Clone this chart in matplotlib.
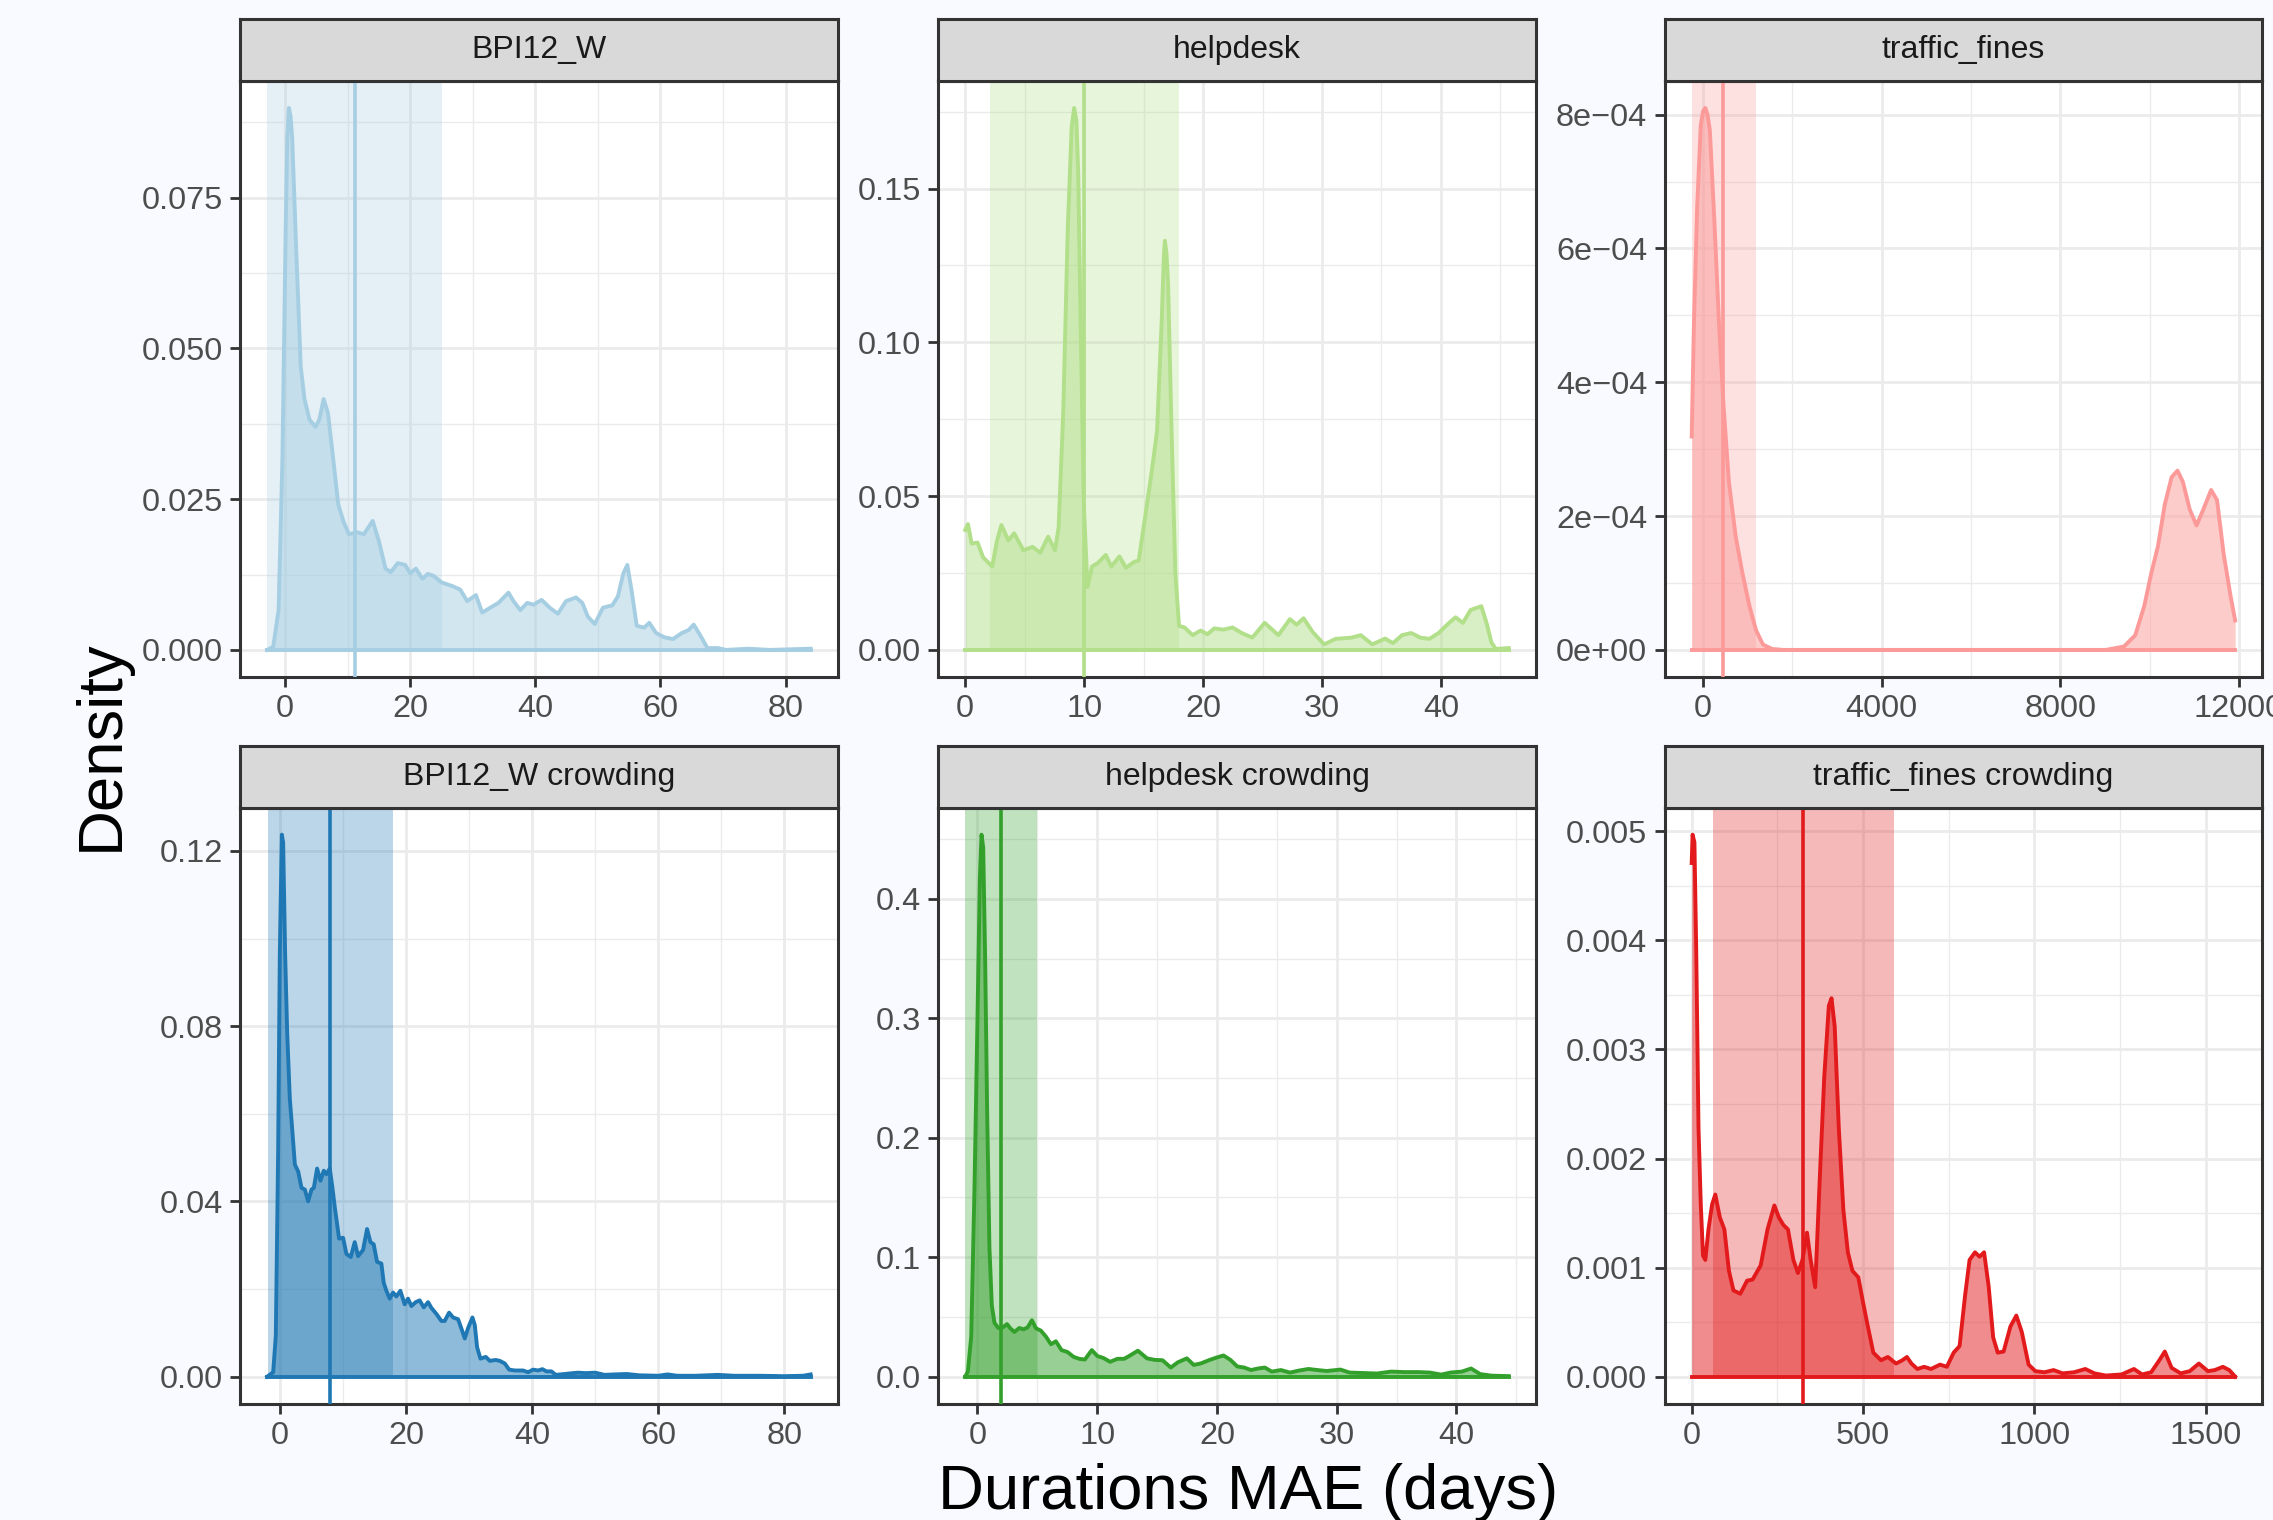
"""Density of duration MAE per dataset, six facets in the ggplot look"""

import numpy as np
import matplotlib
matplotlib.use("Agg")
import matplotlib.pyplot as plt

plt.rcParams["font.family"] = ["Liberation Sans", "DejaVu Sans"]

"""Data read off the reference: (x, density) points of each curve"""

bpi_pts = [(-2.86, 0), (-1.9, 0.0005), (-1.04, 0.0066), (-0.43, 0.0317), (0.09, 0.0697),
           (0.35, 0.085), (0.61, 0.0899), (0.87, 0.0885), (1.13, 0.085), (1.82, 0.0652),
           (2.5, 0.047), (3.1, 0.0416), (3.9, 0.0382), (4.86, 0.037), (5.47, 0.0382),
           (6.16, 0.0416), (6.85, 0.0393), (7.6, 0.0325), (8.5, 0.0241), (9.4, 0.0211),
           (10.2, 0.0192), (11.5, 0.0195), (12.6, 0.0192), (14.0, 0.0214), (15.0, 0.018),
           (16.05, 0.0135), (16.9, 0.0129), (18.0, 0.0144), (19.2, 0.0141), (20.0, 0.0127),
           (20.9, 0.0135), (21.95, 0.0118), (22.8, 0.0126), (23.7, 0.0123), (25.0, 0.0112),
           (26.7, 0.0106), (28.0, 0.0100), (29.1, 0.0081), (30.5, 0.0091), (31.5, 0.0062),
           (32.8, 0.0070), (34.1, 0.0078), (35.7, 0.0095), (36.5, 0.0081), (37.6, 0.0066),
           (38.7, 0.0078), (39.7, 0.0075), (41.0, 0.0083), (42.3, 0.0070), (43.6, 0.0060),
           (44.9, 0.0081), (46.5, 0.0087), (47.5, 0.0078), (48.4, 0.0055), (49.5, 0.0043),
           (50.8, 0.0070), (52.3, 0.0074), (53.2, 0.0089), (54.06, 0.0127), (54.7, 0.0141),
           (55.4, 0.0097), (56.2, 0.0040), (57.4, 0.0037), (58.2, 0.0045), (59.3, 0.0028),
           (60.6, 0.0021), (62.0, 0.0018), (63.4, 0.0028), (64.5, 0.0033), (65.3, 0.0042),
           (66.2, 0.0027), (67.5, 0.0003), (69.2, 0.0003), (70.5, 0.0), (74.0, 0.0002),
           (77.5, 0.0), (84.0, 0.0002)]

helpdesk_pts = [(0, 0.039), (0.23, 0.0409), (0.54, 0.0346), (1.04, 0.0349), (1.5, 0.0301),
                (2.27, 0.0271), (2.66, 0.0353), (3.04, 0.0406), (3.62, 0.0356), (4.12, 0.0379),
                (4.89, 0.0324), (5.66, 0.0335), (6.31, 0.0316), (6.97, 0.0368), (7.55, 0.0324),
                (7.85, 0.0398), (8.24, 0.0771), (8.62, 0.1367), (8.95, 0.170), (9.16, 0.1762),
                (9.35, 0.172), (9.5, 0.155), (9.7, 0.1069), (9.97, 0.0473), (10.28, 0.0204),
                (10.66, 0.0271), (11.13, 0.0282), (11.82, 0.0309), (12.28, 0.0271), (12.97, 0.0304),
                (13.51, 0.0267), (14.2, 0.0286), (14.59, 0.0291), (15.17, 0.0443), (15.67, 0.0577),
                (16.13, 0.0711), (16.52, 0.1069), (16.7, 0.128), (16.79, 0.133), (16.92, 0.129),
                (17.06, 0.1188), (17.36, 0.0696), (17.67, 0.0249), (17.98, 0.0078), (18.44, 0.0073),
                (19.13, 0.0048), (19.79, 0.0063), (20.37, 0.0051), (20.94, 0.0070), (21.71, 0.0066),
                (22.48, 0.0073), (23.25, 0.0055), (24.14, 0.0040), (25.18, 0.0088), (26.33, 0.0048),
                (27.3, 0.0100), (27.87, 0.0082), (28.45, 0.0103), (29.22, 0.0058), (30.18, 0.0018),
                (31.15, 0.0036), (32.5, 0.0040), (33.26, 0.0048), (34.23, 0.0018), (35.31, 0.0037),
                (35.97, 0.0022), (36.73, 0.0048), (37.5, 0.0055), (38.27, 0.0040), (39.04, 0.0036),
                (39.81, 0.0055), (40.6, 0.0085), (41.23, 0.0106), (41.85, 0.0088), (42.5, 0.0130),
                (43.4, 0.0142), (43.86, 0.0085), (44.24, 0.0025), (44.62, 0.0003), (45.7, 0.0006)]

traffic_pts = [(-254, 3.19e-4), (-203, 4.9e-4), (-132, 6.61e-4), (-51, 7.84e-4), (0, 8.05e-4),
               (51, 8.1e-4), (100, 8.0e-4), (152, 7.77e-4), (254, 6.41e-4), (356, 4.9e-4),
               (457, 3.67e-4), (579, 2.51e-4), (732, 1.69e-4), (884, 1.14e-4), (1037, 6.6e-5),
               (1189, 2.9e-5), (1342, 8e-6), (1545, 1.4e-6), (1800, 0), (9016, 0),
               (9423, 5e-6), (9677, 2.2e-5), (9880, 6.6e-5), (10033, 1.14e-4), (10185, 1.55e-4),
               (10337, 2.17e-4), (10490, 2.58e-4), (10622, 2.68e-4), (10744, 2.51e-4),
               (10896, 2.1e-4), (11049, 1.86e-4), (11201, 2.1e-4), (11375, 2.39e-4),
               (11507, 2.24e-4), (11659, 1.42e-4), (11812, 8e-5), (11913, 4.4e-5)]

bpi_crowd_pts = [(-2.04, 0), (-1.09, 0.001), (-0.67, 0.0094), (-0.3, 0.0519), (-0.04, 0.0962),
                 (0.28, 0.1237), (0.49, 0.1219), (0.81, 0.0962), (1.13, 0.0785), (1.55, 0.0634),
                 (1.98, 0.0555), (2.35, 0.0484), (2.88, 0.0468), (3.4, 0.0431), (3.93, 0.0427),
                 (4.46, 0.0400), (4.99, 0.0427), (5.36, 0.0431), (5.88, 0.0475), (6.41, 0.0447),
                 (6.94, 0.0470), (7.37, 0.0462), (7.89, 0.0475), (8.31, 0.0431), (8.69, 0.0386),
                 (9.37, 0.0315), (10.0, 0.0317), (10.53, 0.0280), (11.22, 0.0273), (11.85, 0.0307),
                 (12.38, 0.0275), (13.17, 0.0289), (13.81, 0.0337), (14.34, 0.0307), (14.86, 0.0302),
                 (15.39, 0.0262), (16.08, 0.0258), (16.45, 0.0214), (16.87, 0.0196), (17.4, 0.0178),
                 (17.93, 0.0192), (18.46, 0.0183), (19.09, 0.0196), (19.78, 0.0165), (20.31, 0.0178),
                 (20.84, 0.0161), (21.53, 0.0170), (22.16, 0.0174), (22.8, 0.0158), (23.49, 0.0170),
                 (24.01, 0.0157), (24.81, 0.0143), (25.6, 0.0127), (26.13, 0.0127), (26.82, 0.0146),
                 (27.46, 0.0135), (28.25, 0.0131), (28.94, 0.0103), (29.31, 0.0087), (29.84, 0.0111),
                 (30.53, 0.0135), (30.9, 0.0118), (31.27, 0.0067), (31.8, 0.0041), (32.65, 0.0045),
                 (33.28, 0.0036), (34.23, 0.0038), (34.86, 0.0036), (35.66, 0.0030), (36.35, 0.0016),
                 (37.24, 0.0014), (38.56, 0.0014), (39.36, 0.0010), (40.15, 0.0016), (40.94, 0.0014),
                 (41.63, 0.0017), (42.27, 0.0012), (43.06, 0.0012), (43.75, 0.0004), (45.17, 0.0006),
                 (46.49, 0.0008), (47.3, 0.0009), (48.5, 0.0008), (50.0, 0.0009), (51.5, 0.0004),
                 (53.0, 0.0005), (55.0, 0.0006), (57.0, 0.0003), (60.0, 0.0002), (61.5, 0.0005),
                 (63.0, 0.0002), (66.0, 0.0002), (69.5, 0.0004), (72.0, 0.0002), (76.0, 0.0002),
                 (80.0, 0.0001), (83.0, 0.0002), (84.2, 0.0005)]

helpdesk_crowd_pts = [(-1.02, 0), (-0.8, 0.0043), (-0.52, 0.0335), (-0.25, 0.157), (-0.02, 0.287),
                      (0.2, 0.417), (0.34, 0.4538), (0.48, 0.443), (0.64, 0.352), (0.81, 0.222),
                      (1.0, 0.108), (1.2, 0.0596), (1.42, 0.045), (1.75, 0.0407), (2.11, 0.0412),
                      (2.47, 0.044), (2.75, 0.0404), (3.08, 0.0374), (3.5, 0.0407), (3.86, 0.0396),
                      (4.19, 0.0412), (4.55, 0.0472), (4.89, 0.0404), (5.3, 0.0385), (5.72, 0.0335),
                      (6.14, 0.0271), (6.55, 0.0296), (7.02, 0.0222), (7.52, 0.0206), (8.02, 0.0166),
                      (8.5, 0.0149), (8.97, 0.0143), (9.55, 0.0222), (10.02, 0.0172), (10.52, 0.0156),
                      (11.08, 0.0124), (11.69, 0.0149), (12.25, 0.0149), (12.66, 0.0172), (13.4, 0.0217),
                      (14.16, 0.0153), (14.81, 0.0140), (15.46, 0.0137), (16.15, 0.0076), (16.72, 0.0119),
                      (17.49, 0.0153), (18.06, 0.0098), (18.64, 0.0110), (19.4, 0.0140), (19.98, 0.0160),
                      (20.55, 0.0177), (21.13, 0.0140), (21.7, 0.0085), (22.28, 0.0076), (22.85, 0.0055),
                      (23.43, 0.0068), (24.0, 0.0076), (24.58, 0.0042), (25.34, 0.0055), (26.1, 0.0034),
                      (26.87, 0.0051), (27.64, 0.0064), (28.4, 0.0055), (29.17, 0.0047), (30.32, 0.0059),
                      (31.08, 0.0034), (32.23, 0.0030), (33.38, 0.0026), (34.53, 0.0042), (35.68, 0.0038),
                      (36.83, 0.0038), (37.78, 0.0034), (38.74, 0.0017), (39.5, 0.0034), (40.46, 0.0042),
                      (41.23, 0.0068), (41.99, 0.0021), (42.95, 0.0008), (44.37, 0.0004)]

traffic_crowd_pts = [(0, 0.00471), (2.6, 0.00497), (8, 0.0049), (13.2, 0.00392), (19.9, 0.00228),
                     (26.5, 0.00158), (33.1, 0.00111), (39.8, 0.00107), (49, 0.00135), (59.6, 0.00158),
                     (68.9, 0.00167), (82.2, 0.00146), (95.4, 0.00135), (108.7, 0.00097), (121.9, 0.00079),
                     (141.8, 0.00076), (161.7, 0.00088), (177.6, 0.00089), (201.4, 0.00102),
                     (221.3, 0.00135), (241.2, 0.00157), (254.4, 0.00146), (267.7, 0.00139),
                     (280.9, 0.00135), (296.8, 0.00107), (310, 0.00095), (323.3, 0.00107),
                     (336.5, 0.00132), (347.2, 0.00107), (360.4, 0.00082), (373.7, 0.00181),
                     (386.9, 0.00275), (400.2, 0.0034), (408.1, 0.00347), (417.4, 0.00321),
                     (429.3, 0.00228), (442.6, 0.00153), (455.8, 0.00114), (469.1, 0.00097),
                     (486.3, 0.00091), (499.5, 0.00069), (512.8, 0.00048), (530, 0.00022),
                     (552.5, 0.00015), (572.4, 0.00018), (596.3, 0.00012), (614.8, 0.00015),
                     (628.1, 0.00018), (641.3, 0.00012), (658.5, 0.00007), (678.4, 0.00009),
                     (698.3, 0.00007), (724.8, 0.00011), (744.7, 0.00009), (764.5, 0.00022),
                     (781.8, 0.00028), (797.7, 0.00074), (810.9, 0.00107), (826.8, 0.00114),
                     (840.1, 0.0011), (853.3, 0.00114), (866.6, 0.00083), (879.8, 0.00036),
                     (893.1, 0.00022), (910.3, 0.00023), (930.2, 0.00046), (947.4, 0.00056),
                     (963.3, 0.00041), (983.2, 0.00011), (1003, 0.00005), (1029.5, 0.00004),
                     (1056, 0.00006), (1082.5, 0.00003), (1115.7, 0.00004), (1148.8, 0.00007),
                     (1175.3, 0.00003), (1208.4, 0.00001), (1254.8, 0.00002), (1290.6, 0.00007),
                     (1314.4, 0.00002), (1340.9, 0.00004), (1364.8, 0.00015), (1380.7, 0.00023),
                     (1400.6, 0.00008), (1427.1, 0.00003), (1453.6, 0.00005), (1480.1, 0.00012),
                     (1506.6, 0.00005), (1526.5, 0.00006), (1550.3, 0.00009), (1568.8, 0.00006),
                     (1586, 0.0)]

titles = ["BPI12_W", "helpdesk", "traffic_fines",
          "BPI12_W crowding", "helpdesk crowding", "traffic_fines crowding"]
colors = ["#A6CEE3", "#B2DF8A", "#FB9A99", "#1F78B4", "#33A02C", "#E31A1C"]
bands = [(-2.86, 25.07), (2.05, 17.98), (-253, 1190), (-1.96, 18.0), (-1.07, 4.98), (61, 591)]
vlines = [11.1, 10.0, 458, 8.0, 2.0, 326]

xticks = [[0, 20, 40, 60, 80], [0, 10, 20, 30, 40], [0, 4000, 8000, 12000],
          [0, 20, 40, 60, 80], [0, 10, 20, 30, 40], [0, 500, 1000, 1500]]
xminor = [[10, 30, 50, 70], [5, 15, 25, 35, 45], [2000, 6000, 10000],
          [10, 30, 50, 70], [5, 15, 25, 35, 45], [250, 750, 1250]]
yticks = [[0, 0.025, 0.05, 0.075], [0, 0.05, 0.10, 0.15], [0, 2e-4, 4e-4, 6e-4, 8e-4],
          [0, 0.04, 0.08, 0.12], [0, 0.1, 0.2, 0.3, 0.4], [0, 0.001, 0.002, 0.003, 0.004, 0.005]]
ylabels = [["0.000", "0.025", "0.050", "0.075"],
           ["0.00", "0.05", "0.10", "0.15"],
           ["0e+00", "2e\u221204", "4e\u221204", "6e\u221204", "8e\u221204"],
           ["0.00", "0.04", "0.08", "0.12"],
           ["0.0", "0.1", "0.2", "0.3", "0.4"],
           ["0.000", "0.001", "0.002", "0.003", "0.004", "0.005"]]
yminor = [[0.0125, 0.0375, 0.0625, 0.0875], [0.025, 0.075, 0.125, 0.175],
          [1e-4, 3e-4, 5e-4, 7e-4], [0.02, 0.06, 0.10], [0.05, 0.15, 0.25, 0.35, 0.45],
          [0.0005, 0.0015, 0.0025, 0.0035, 0.0045]]

curves = [bpi_pts, helpdesk_pts, traffic_pts, bpi_crowd_pts, helpdesk_crowd_pts, traffic_crowd_pts]

"""Layout (figure fractions)"""

BG = "#F8FAFF"
col_left = [0.1056, 0.4127, 0.7323]
row_bottom = [0.5546, 0.0765]
PW, PH, SH = 0.2630, 0.3922, 0.0404
DARK = "#333333"


def draw_panel(fig, i):
    """one facet: strip, grid, band, density, mean line"""
    left = col_left[i % 3]
    bottom = row_bottom[i // 3]
    c = colors[i]
    ax = fig.add_axes([left, bottom, PW, PH])
    sax = fig.add_axes([left, bottom + PH, PW, SH])

    x = np.array([p[0] for p in curves[i]])
    y = np.array([p[1] for p in curves[i]])
    xr = x.max() - x.min()
    ax.set_xlim(x.min() - 0.05 * xr, x.max() + 0.05 * xr)
    ytop = y.max() * 1.05
    ax.set_ylim(-0.05 * y.max(), ytop)

    ax.set_facecolor("white")
    ax.set_xticks(xticks[i])
    ax.set_xticklabels([str(v) for v in xticks[i]])
    ax.set_xticks(xminor[i], minor=True)
    ax.set_yticks(yticks[i])
    ax.set_yticklabels(ylabels[i])
    ax.set_yticks(yminor[i], minor=True)
    ax.grid(which="major", color="#EBEBEB", linewidth=1.0)
    ax.grid(which="minor", color="#EBEBEB", linewidth=0.5)
    ax.set_axisbelow(True)
    ax.tick_params(which="major", direction="out", length=3.6, width=1.0, color=DARK,
                   labelcolor="#4D4D4D", labelsize=11.7, pad=2.6)
    ax.tick_params(which="minor", length=0)
    for s in ax.spines.values():
        s.set_color(DARK)
        s.set_linewidth(1.1)

    b0, b1 = bands[i]
    ax.fill_between([b0, b1], 0, ytop, color=c, alpha=0.3, linewidth=0, zorder=1)
    ax.fill_between(x, 0, y, color=c, alpha=0.5, linewidth=0, zorder=2)
    ax.plot(x, y, color=c, linewidth=1.4, zorder=3, solid_joinstyle="round")
    ax.plot([x.min(), x.max()], [0, 0], color=c, linewidth=1.4, zorder=3)
    ax.axvline(vlines[i], color=c, linewidth=1.3, zorder=4)

    sax.set_facecolor("#D9D9D9")
    sax.set_xticks([])
    sax.set_yticks([])
    for s in sax.spines.values():
        s.set_color(DARK)
        s.set_linewidth(1.1)
    sax.text(0.5, 0.5, titles[i], ha="center", va="center", fontsize=11.5,
             color="#1A1A1A", transform=sax.transAxes)


fig = plt.figure(figsize=(11.365, 7.6), dpi=200, facecolor=BG)
for i in range(6):
    draw_panel(fig, i)

fig.text(0.549, 0.0075, "Durations MAE (days)", ha="center", va="baseline", fontsize=22.8)
fig.text(0.0519, 0.5099, "Density", rotation=90, rotation_mode="anchor",
         ha="center", va="baseline", fontsize=22.8)

fig.savefig("out.png", dpi=200, facecolor=BG)
